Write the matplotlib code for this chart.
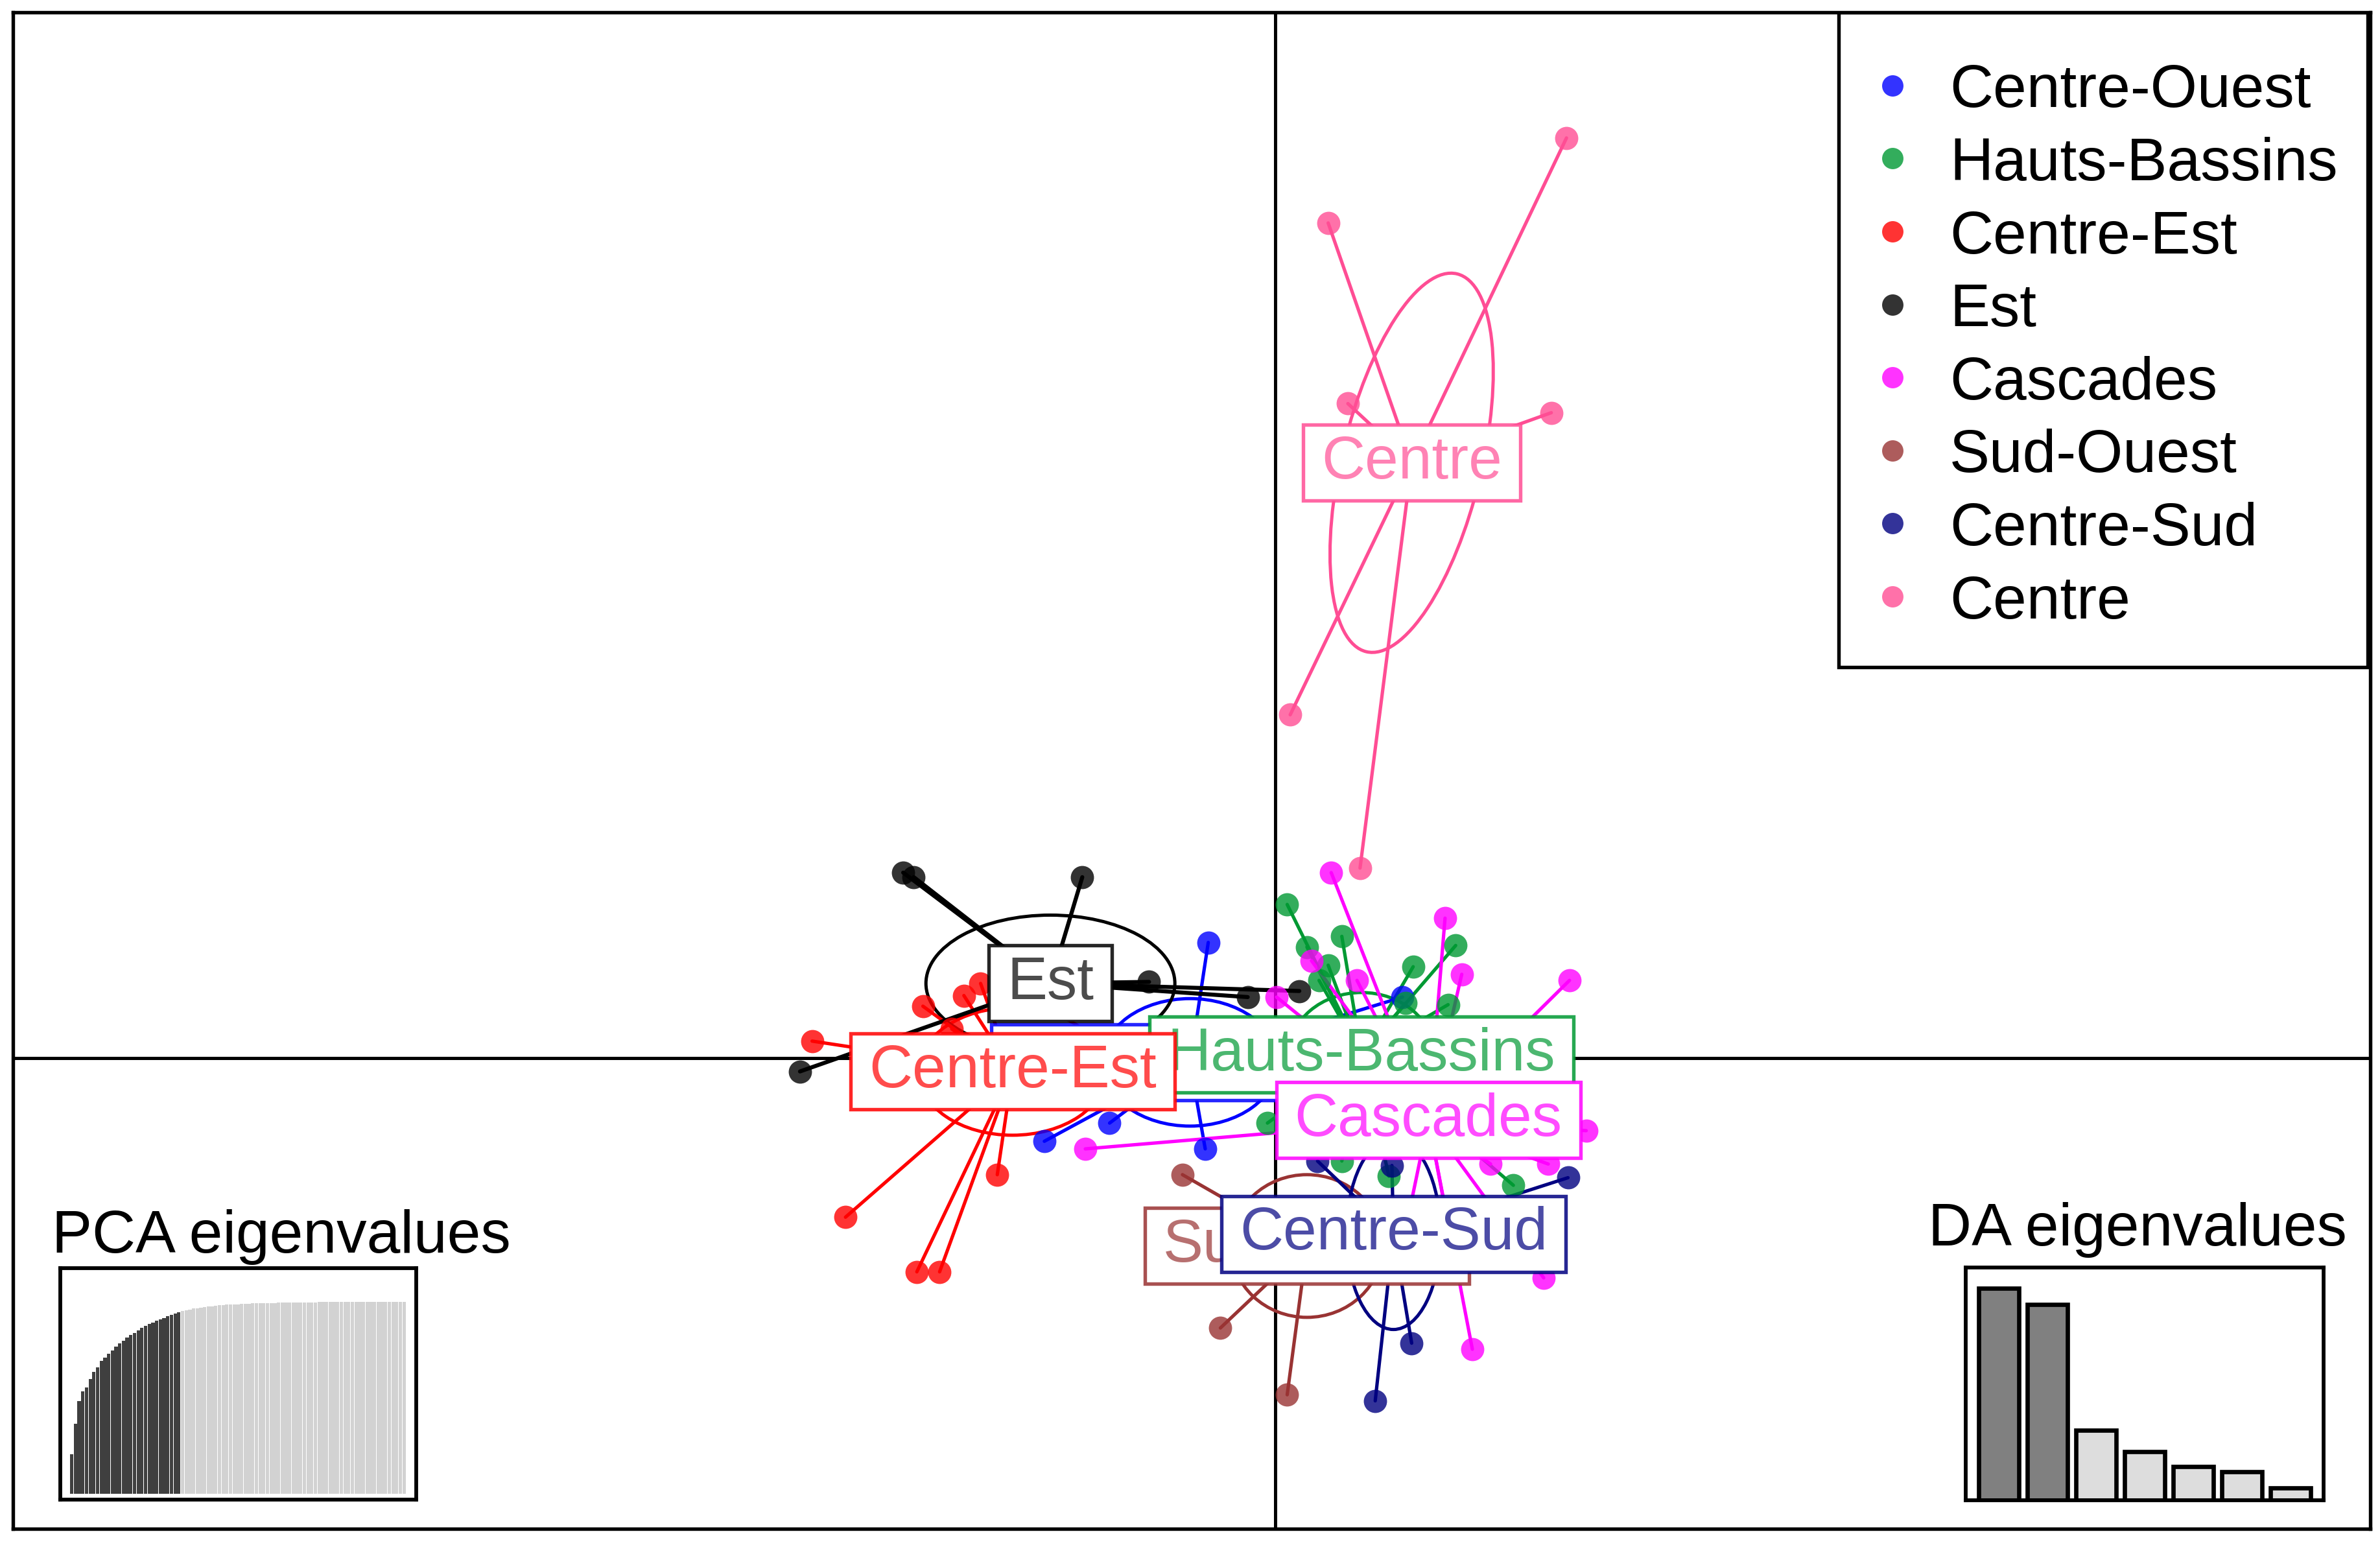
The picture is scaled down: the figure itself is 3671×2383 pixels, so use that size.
import matplotlib
matplotlib.use('Agg')
import matplotlib.pyplot as plt
from matplotlib.patches import Ellipse, Rectangle
from matplotlib.colors import to_rgba
from matplotlib.transforms import offset_copy

plt.rcParams['font.family'] = ['Liberation Sans', 'DejaVu Sans']

# ---------------- data (discriminant scores) ----------------
groups = ['Centre-Ouest', 'Hauts-Bassins', 'Centre-Est', 'Est',
          'Cascades', 'Sud-Ouest', 'Centre-Sud', 'Centre']

centre_ouest_x = [-0.44, 0.84, -1.52, -1.09, -0.46]
centre_ouest_y = [0.76, 0.40, -0.55, -0.43, -0.60]

hauts_bassins_x = [0.08, 0.21, 0.44, 0.35, 0.29, 0.91, 1.19, 0.86, 1.14, -0.05, 0.44, 0.75, 1.57]
hauts_bassins_y = [1.01, 0.73, 0.80, 0.61, 0.51, 0.60, 0.74, 0.36, 0.35, -0.43, -0.68, -0.78, -0.84]

centre_est_x = [-3.05, -2.32, -2.05, -1.94, -2.13, -2.83, -2.36, -2.21, -1.83]
centre_est_y = [0.11, 0.34, 0.41, 0.49, 0.19, -1.05, -1.41, -1.41, -0.77]

est_x = [-2.45, -2.38, -1.27, -0.83, -0.18, 0.16, -3.13]
est_y = [1.22, 1.19, 1.19, 0.50, 0.40, 0.44, -0.09]

cascades_x = [0.37, 1.12, 1.23, 1.94, 0.01, 0.24, 0.54, -1.25, 2.05, 1.77, 1.30, 1.42, 1.80, 0.85, 1.15]
cascades_y = [1.22, 0.92, 0.55, 0.51, 0.40, 0.64, 0.51, -0.60, -0.48, -1.45, -1.92, -0.70, -0.70, -1.18, -1.15]

sud_ouest_x = [-0.61, -0.36, 0.08]
sud_ouest_y = [-0.77, -1.78, -2.22]

centre_sud_x = [0.66, 0.90, 1.93, 0.28, 0.77]
centre_sud_y = [-2.26, -1.88, -0.79, -0.68, -0.71]

centre_x = [1.92, 0.35, 0.48, 1.82, 0.10, 0.56]
centre_y = [6.06, 5.50, 4.31, 4.25, 2.26, 1.25]

# group centres (where the labels sit)
centroid_x = [-0.56, 0.57, -1.73, -1.48, 1.01, 0.21, 0.78, 0.90]
centroid_y = [-0.03, 0.02, -0.09, 0.49, -0.41, -1.24, -1.16, 3.92]

# inertia ellipses: semi-axis 1, semi-axis 2, angle (degrees)
ellipse_a = [0.58, 0.48, 0.62, 0.82, 0.85, 0.50, 0.31, 1.28]
ellipse_b = [0.42, 0.41, 0.42, 0.45, 0.22, 0.47, 0.63, 0.46]
ellipse_angle = [0, 0, 0, 0, 0, 0, 0, 76.5]

# PCA eigenvalues inset (cumulative % variance): retained and not retained axes
pca_cum_retained = [20.8, 36.5, 48.4, 53.5, 55.3, 59.7, 63.5, 66.0, 69.2, 71.1,
                    73.0, 74.8, 76.7, 78.4, 79.9, 81.4, 82.8, 83.9, 85.2, 86.4,
                    87.4, 88.4, 89.3, 90.2, 90.9, 91.7, 92.5, 93.2, 94.0, 94.7]
pca_cum_other = [95.3, 95.7, 96.1, 96.5, 96.8, 97.1, 97.4, 97.6, 97.8, 98.0,
                 98.2, 98.4, 98.5, 98.6, 98.7, 98.8, 98.9, 99.0, 99.1, 99.2,
                 99.25, 99.3, 99.35, 99.4, 99.45, 99.5, 99.55, 99.6, 99.63, 99.66,
                 99.69, 99.72, 99.75, 99.77, 99.79, 99.81, 99.83, 99.85, 99.87, 99.88,
                 99.89, 99.9, 99.91, 99.92, 99.93, 99.94, 99.95, 99.96, 99.97, 99.97,
                 99.98, 99.98, 99.99, 99.99, 99.99, 100, 100, 100, 100, 100, 100]

# DA eigenvalues inset
da_eig = [87.5, 81.0, 29.0, 20.0, 14.0, 11.8, 5.0]
da_retained = 2

# ---------------- styling ----------------
colors = ['#0000FF', '#009933', '#FF0000', '#000000',
          '#FF00FF', '#993333', '#000080', '#FF4D94']
FS = 22.3

group_x = [centre_ouest_x, hauts_bassins_x, centre_est_x, est_x,
           cascades_x, sud_ouest_x, centre_sud_x, centre_x]
group_y = [centre_ouest_y, hauts_bassins_y, centre_est_y, est_y,
           cascades_y, sud_ouest_y, centre_sud_y, centre_y]

W, H = 3671, 2383
fig = plt.figure(figsize=((W + 0.3) / 300, (H + 0.3) / 300), dpi=300)
fig.patch.set_facecolor('white')

ax = fig.add_axes([20 / W, 1 - 2358 / H, 3636 / W, 2339 / H])
ax.set_xlim(-8.315, 7.217)
ax.set_ylim(-3.103, 6.889)
ax.set_xticks([])
ax.set_yticks([])
for s in ax.spines.values():
    s.set_linewidth(1.3)
    s.set_zorder(50)
ax.axhline(0, color='black', lw=1.2, zorder=1)
ax.axvline(0, color='black', lw=1.2, zorder=1)

for i, g in enumerate(groups):
    c = colors[i]
    cx, cy = centroid_x[i], centroid_y[i]
    ax.add_patch(Ellipse((cx, cy), 2 * ellipse_a[i], 2 * ellipse_b[i],
                         angle=ellipse_angle[i], fill=False, edgecolor=c,
                         lw=1.2, zorder=2))
    lw = 1.5 if g == 'Est' else 1.25
    for px, py in zip(group_x[i], group_y[i]):
        ax.plot([cx, px], [cy, py], color=c, lw=lw, zorder=3,
                solid_capstyle='round')
    ax.plot(group_x[i], group_y[i], ls='none', marker='o', ms=8.6,
            color=c, alpha=0.8, mec='none', zorder=4)

label_texts = []
for i, g in enumerate(groups):
    t = ax.text(centroid_x[i], centroid_y[i], g, fontsize=FS,
                color=to_rgba(colors[i], 0.7), ha='center', va='center',
                zorder=11 + 2 * i)
    label_texts.append(t)

# legend (box in the upper right corner), positions in axes fraction
def fx(d):
    return (d - 8.54) / 1553.2


def fy(d):
    return (1007.3 - d) / 999.2


ax.add_patch(Rectangle((fx(1211.5), fy(439.5)), fx(1559.8) - fx(1211.5),
                       fy(8.1) - fy(439.5), transform=ax.transAxes,
                       facecolor='white', edgecolor='black', lw=1.3,
                       zorder=40))
text_tr = offset_copy(ax.transAxes, fig=fig, y=-0.358 * FS, units='points')
for k, g in enumerate(groups):
    ry = fy(56.4 + 48.1 * k)
    ax.plot([fx(1246.7)], [ry], transform=ax.transAxes, ls='none',
            marker='o', ms=7.9, color=colors[k], alpha=0.8, mec='none',
            zorder=41)
    ax.text(fx(1284.5), ry, g, transform=text_tr, fontsize=FS,
            ha='left', va='baseline', color='black', zorder=41)

# PCA inset
axp = fig.add_axes([93 / W, 1 - 2313 / H, 549 / W, 357 / H])
n_ret = len(pca_cum_retained)
pca_vals = pca_cum_retained + pca_cum_other
pca_cols = ['#3F3F3F'] * n_ret + ['#D2D2D2'] * len(pca_cum_other)
axp.bar(range(len(pca_vals)), pca_vals, width=0.92, color=pca_cols,
        edgecolor='none')
axp.set_xlim(-3.1, len(pca_vals) + 2.3)
axp.set_ylim(-3.0, 117.6)
axp.set_xticks([])
axp.set_yticks([])
for s in axp.spines.values():
    s.set_linewidth(1.4)
fig.text(80 / W, 1 - 1932 / H, 'PCA eigenvalues', fontsize=FS,
         ha='left', va='baseline')

# DA inset
axd = fig.add_axes([3032 / W, 1 - 2314 / H, 552 / W, 359 / H])
da_pos = [1.2 * k for k in range(len(da_eig))]
da_cols = ['#808080'] * da_retained + ['#DDDDDD'] * (len(da_eig) - da_retained)
axd.bar(da_pos, da_eig, width=1.0, color=da_cols, edgecolor='black', lw=1.6)
axd.set_xlim(-0.816, 8.02)
axd.set_ylim(0, 96.2)
axd.set_xticks([])
axd.set_yticks([])
for s in axd.spines.values():
    s.set_linewidth(1.4)
fig.text(2974 / W, 1 - 1921 / H, 'DA eigenvalues', fontsize=FS,
         ha='left', va='baseline')

# boxes around the group labels
fig.canvas.draw()
r = fig.canvas.get_renderer()
inv = ax.transData.inverted()
padx, boxh = 28, 117
for i, t in enumerate(label_texts):
    bb = t.get_window_extent(r)
    xc = (bb.x0 + bb.x1) / 2
    yc = (bb.y0 + bb.y1) / 2
    w = bb.width + 2 * padx
    x0, y0 = inv.transform((xc - w / 2, yc - boxh / 2))
    x1, y1 = inv.transform((xc + w / 2, yc + boxh / 2))
    ax.add_patch(Rectangle((x0, y0), x1 - x0, y1 - y0, facecolor='white',
                           edgecolor=to_rgba(colors[i], 0.85), lw=1.3,
                           zorder=10 + 2 * i))

fig.savefig('out.png', dpi=300, facecolor='white')
